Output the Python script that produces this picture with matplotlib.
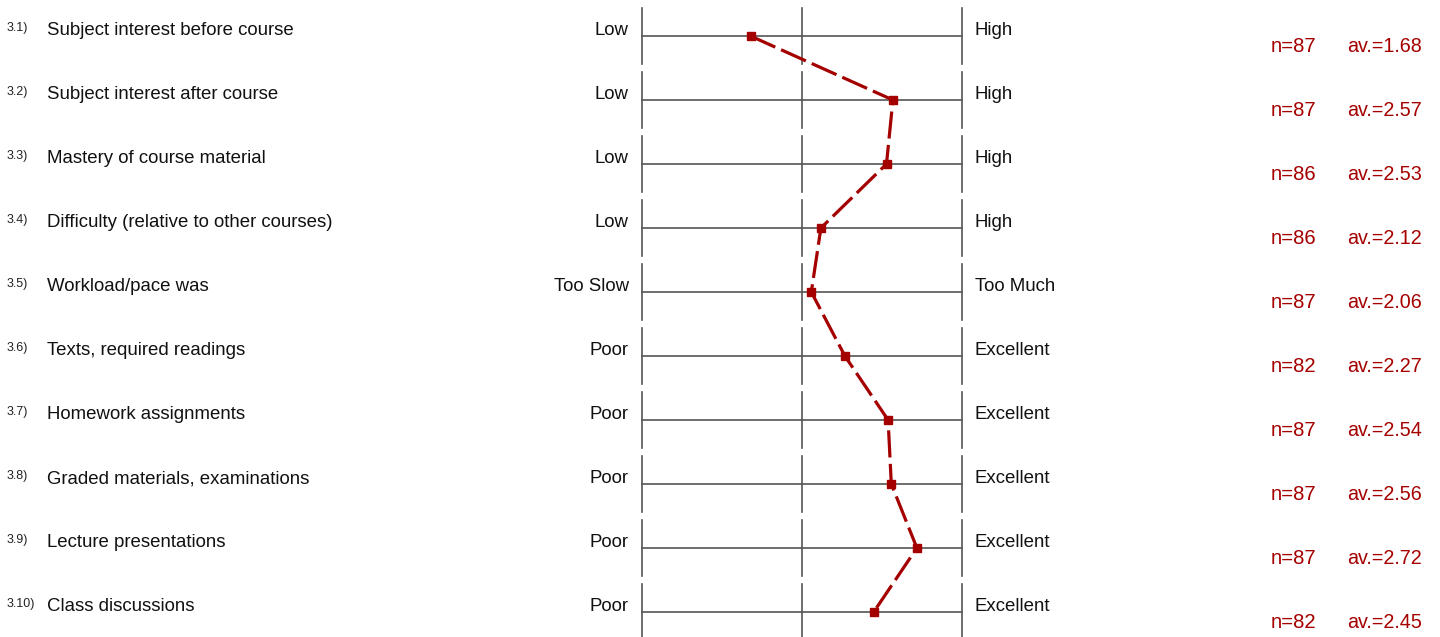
import matplotlib
matplotlib.use('Agg')
import matplotlib.pyplot as plt

plt.rcParams['font.family'] = ['Liberation Sans', 'DejaVu Sans']

numbers = ['3.1)', '3.2)', '3.3)', '3.4)', '3.5)', '3.6)', '3.7)', '3.8)', '3.9)', '3.10)']
questions = ['Subject interest before course', 'Subject interest after course',
             'Mastery of course material', 'Difficulty (relative to other courses)',
             'Workload/pace was', 'Texts, required readings', 'Homework assignments',
             'Graded materials, examinations', 'Lecture presentations', 'Class discussions']
left_labels = ['Low', 'Low', 'Low', 'Low', 'Too Slow', 'Poor', 'Poor', 'Poor', 'Poor', 'Poor']
right_labels = ['High', 'High', 'High', 'High', 'Too Much', 'Excellent', 'Excellent',
                'Excellent', 'Excellent', 'Excellent']
n_counts = [87, 87, 86, 86, 87, 82, 87, 87, 87, 82]
averages = [1.68, 2.57, 2.53, 2.12, 2.06, 2.27, 2.54, 2.56, 2.72, 2.45]
scale = [1, 2, 3]

W, H = 1440, 637
RED = '#a50000'
GREY = '#555555'

fig = plt.figure(figsize=(W / 100, H / 100), dpi=100)
ax = fig.add_axes([0, 0, 1, 1])
ax.axis('off')

# pixel -> data mapping: value 1 at x=641.7px, 160px per unit; row i at y=36+64i px
unit = 160.0
x0 = 1 - 641.7 / unit
ax.set_xlim(x0, x0 + W / unit)
ax.set_ylim((H - 36) / 64.0, -36 / 64.0)


def px(xp):
    return x0 + xp / unit


rows = list(range(len(questions)))
half = 28 / 64.0

for i in rows:
    ax.plot([scale[0], scale[-1]], [i, i], color=GREY, lw=1.2, zorder=1)
    for s in scale:
        ax.plot([s, s], [i - half, i + half], color=GREY, lw=1.2, zorder=1)

    ax.text(px(7), i - 0.13, numbers[i], fontsize=9, ha='left', va='center', color='#222222')
    ax.text(px(47), i - 0.08, questions[i], fontsize=13.4, ha='left', va='center', color='#111111')
    ax.text(scale[0] - 13 / unit, i - 0.08, left_labels[i], fontsize=13.4, ha='right', va='center',
            color='#111111')
    ax.text(scale[-1] + 13 / unit, i - 0.08, right_labels[i], fontsize=13.4, ha='left', va='center',
            color='#111111')
    ax.text(px(1271), i + 0.165, 'n=%d' % n_counts[i], fontsize=14.6, ha='left', va='center', color=RED)
    ax.text(px(1422), i + 0.165, 'av.=%.2f' % averages[i], fontsize=14.2, ha='right', va='center',
            color=RED)

ax.plot(averages, rows, color=RED, lw=2.3, dashes=(8.5, 2), marker='s', markersize=6,
        markerfacecolor=RED, markeredgecolor=RED, zorder=3)

fig.savefig('out.png', dpi=100, facecolor='white')
